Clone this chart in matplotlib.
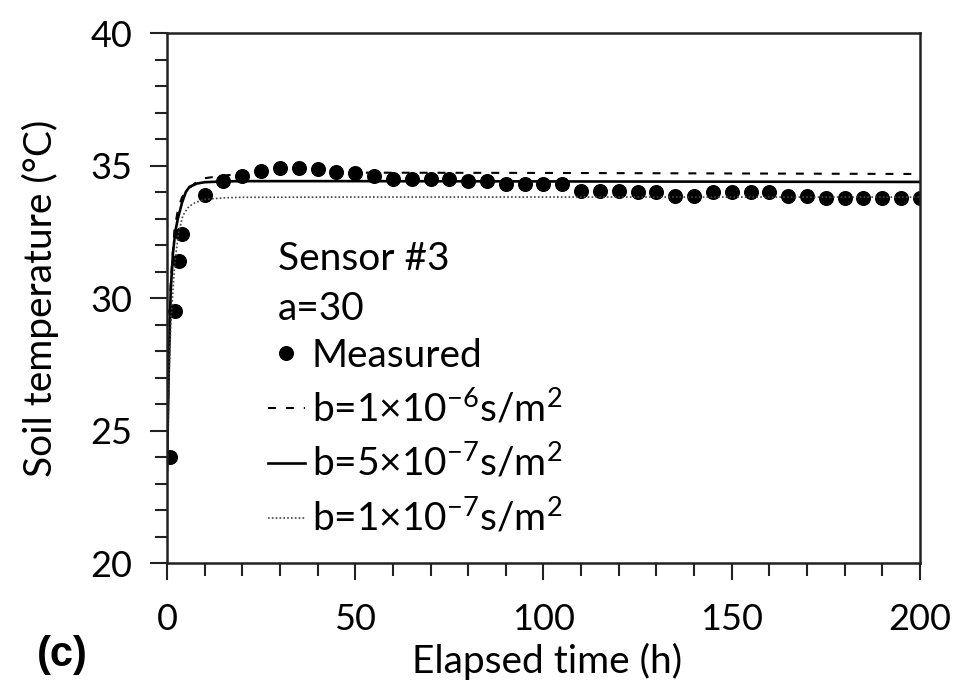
import numpy as np
import matplotlib
matplotlib.use('Agg')
import matplotlib.pyplot as plt
from matplotlib.ticker import MultipleLocator

# measured soil temperature, sensor #3
t_meas = [0.8, 2.1, 3.2, 4.0, 10, 15, 20, 25, 30, 35, 40, 45, 50, 55, 60, 65, 70,
          75, 80, 85, 90, 95, 100, 105, 110, 115, 120, 125, 130, 135, 140, 145,
          150, 155, 160, 165, 170, 175, 180, 185, 190, 195, 200]
T_meas = [24.0, 29.5, 31.4, 32.4, 33.9, 34.4, 34.6, 34.8, 34.9, 34.9, 34.85, 34.77,
          34.7, 34.6, 34.5, 34.5, 34.5, 34.5, 34.4, 34.4, 34.3, 34.3, 34.3, 34.3,
          34.05, 34.05, 34.05, 34.0, 34.0, 33.86, 33.86, 34.0, 34.0, 34.0, 34.0,
          33.86, 33.86, 33.77, 33.79, 33.79, 33.79, 33.79, 33.79]

# simulated, b = 1e-6
t_b1 = [0, 0.5, 1, 2, 3, 4, 5, 6, 8, 10, 15, 20, 30, 50, 100, 150, 200]
T_b1 = [23.5, 27.8, 30.6, 32.6, 33.4, 33.8, 34.0, 34.15, 34.4, 34.52, 34.62, 34.68,
        34.72, 34.73, 34.72, 34.70, 34.68]
# simulated, b = 5e-7
t_b2 = [0, 0.5, 1, 1.6, 2.2, 2.9, 4, 5, 6, 8, 10, 15, 20, 50, 100, 150, 200]
T_b2 = [23.5, 27.5, 30.3, 31.7, 32.5, 33.0, 33.6, 34.0, 34.2, 34.32, 34.37, 34.4,
        34.41, 34.41, 34.40, 34.39, 34.38]
# simulated, b = 1e-7
t_b3 = [0, 0.5, 1, 2, 3, 4.2, 5.5, 6.9, 8.8, 10, 15, 20, 50, 100, 150, 200]
T_b3 = [23.5, 26.8, 29.0, 31.2, 32.4, 33.1, 33.4, 33.56, 33.67, 33.72, 33.78, 33.8,
        33.81, 33.81, 33.81, 33.81]

plt.rcParams['font.family'] = ['Lato', 'DejaVu Sans']
plt.rcParams['mathtext.fontset'] = 'custom'
plt.rcParams['mathtext.rm'] = 'Lato'
plt.rcParams['font.size'] = 28

fig = plt.figure(figsize=(9.58, 6.92), dpi=100)
ax = fig.add_axes([0.1743, 0.1864, 0.786, 0.7659])

ax.plot(t_meas, T_meas, 'o', color='black', markersize=9.8, label='Measured')
ax.plot(t_b1, T_b1, color='black', lw=1.5, dashes=(3.8, 4.8),
        label=r'b=1×10$^{\mathregular{-6}}$s/m$^{\mathregular{2}}$')
ax.plot(t_b2, T_b2, color='black', lw=1.9,
        label=r'b=5×10$^{\mathregular{-7}}$s/m$^{\mathregular{2}}$')
ax.plot(t_b3, T_b3, color='#444444', lw=1.2, dashes=(1, 1.3),
        label=r'b=1×10$^{\mathregular{-7}}$s/m$^{\mathregular{2}}$')

ax.set_xlim(0, 200)
ax.set_ylim(20, 40)
ax.xaxis.set_major_locator(MultipleLocator(50))
ax.xaxis.set_minor_locator(MultipleLocator(10))
ax.yaxis.set_major_locator(MultipleLocator(5))
ax.yaxis.set_minor_locator(MultipleLocator(1))
ax.tick_params(which='major', direction='out', length=12, width=1.5, color='#222222',
               labelsize=26)
ax.tick_params(which='minor', direction='out', length=9, width=1.5, color='#222222')
ax.tick_params(axis='x', which='major', pad=17)
ax.tick_params(axis='y', which='major', pad=13)
for s in ax.spines.values():
    s.set_linewidth(1.8)
    s.set_color('#222222')

ax.set_xlabel('Elapsed time (h)')
ax.set_ylabel('Soil temperature (°C)')
ax.xaxis.set_label_coords(0.5046, -0.15)
ax.yaxis.set_label_coords(-0.143, 0.5)

ax.text(0.1474, 0.5528, 'Sensor #3', transform=ax.transAxes, va='baseline')
ax.text(0.1474, 0.4585, 'a=30', transform=ax.transAxes, va='baseline')
ax.legend(loc='upper left', bbox_to_anchor=(0.134, 0.425), frameon=False,
          borderpad=0, borderaxespad=0, handlelength=0.95, handletextpad=0.18,
          labelspacing=0.38)

fig.text(0.0647, 0.0535, '(c)', family='Liberation Sans', weight='bold',
         fontsize=30, ha='center', va='center')

fig.savefig('out.png', dpi=100)
